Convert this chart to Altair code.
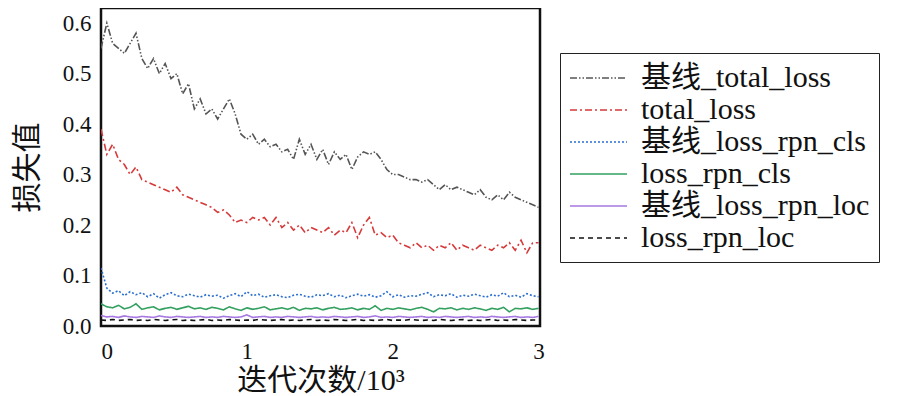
import altair as alt
import pandas as pd
import numpy as np

series_names = ["基线_total_loss", "total_loss", "基线_loss_rpn_cls",
                "loss_rpn_cls", "基线_loss_rpn_loc", "loss_rpn_loc"]
series_colors = ["#555555", "#d63a3a", "#2a6fd0", "#34a060", "#a678e0", "#111111"]
series_dash = [[7, 2, 1.5, 2, 1.5, 2], [7, 3, 2, 3], [2, 2], [1, 0], [1, 0], [5, 4]]
series_width = [1.6, 1.6, 1.8, 2.0, 1.6, 2.2]

base_total_loss = [0.55, 0.60, 0.56, 0.55, 0.54, 0.56, 0.58, 0.53, 0.51, 0.53,
                   0.50, 0.52, 0.49, 0.50, 0.46, 0.48, 0.43, 0.45, 0.42, 0.43,
                   0.41, 0.43, 0.45, 0.42, 0.38, 0.37, 0.38, 0.36, 0.37, 0.355,
                   0.36, 0.345, 0.35, 0.33, 0.37, 0.34, 0.36, 0.33, 0.35, 0.32,
                   0.345, 0.33, 0.34, 0.31, 0.335, 0.345, 0.34, 0.345, 0.33, 0.31,
                   0.30, 0.30, 0.295, 0.29, 0.29, 0.285, 0.29, 0.28, 0.27, 0.28,
                   0.27, 0.275, 0.27, 0.265, 0.26, 0.27, 0.255, 0.25, 0.26, 0.25,
                   0.265, 0.255, 0.25, 0.245, 0.24, 0.235]
total_loss = [0.39, 0.34, 0.36, 0.33, 0.32, 0.30, 0.315, 0.29, 0.285, 0.28,
              0.275, 0.27, 0.265, 0.275, 0.26, 0.255, 0.25, 0.245, 0.24, 0.235,
              0.225, 0.23, 0.22, 0.205, 0.21, 0.205, 0.215, 0.21, 0.215, 0.20,
              0.215, 0.195, 0.205, 0.19, 0.20, 0.185, 0.195, 0.19, 0.185, 0.195,
              0.18, 0.19, 0.185, 0.205, 0.175, 0.20, 0.215, 0.18, 0.185, 0.175,
              0.18, 0.165, 0.16, 0.155, 0.165, 0.155, 0.16, 0.15, 0.16, 0.155,
              0.165, 0.15, 0.16, 0.155, 0.15, 0.16, 0.155, 0.15, 0.16, 0.155,
              0.165, 0.15, 0.17, 0.145, 0.165, 0.165]
base_rpn_cls = [0.115, 0.075, 0.065, 0.07, 0.06, 0.068, 0.062, 0.066, 0.058, 0.064,
                0.055, 0.062, 0.066, 0.06, 0.058, 0.063, 0.06, 0.057, 0.062, 0.059,
                0.061, 0.055, 0.06, 0.064, 0.058, 0.068, 0.06, 0.063, 0.057, 0.06,
                0.062, 0.058, 0.056, 0.061, 0.063, 0.059, 0.057, 0.062, 0.06, 0.064,
                0.058, 0.061, 0.056, 0.06, 0.063, 0.059, 0.062, 0.057, 0.06, 0.068,
                0.058, 0.062, 0.057, 0.06, 0.059, 0.063, 0.066, 0.058, 0.062, 0.06,
                0.064, 0.057, 0.061, 0.059, 0.063, 0.06, 0.057, 0.062, 0.059, 0.066,
                0.058, 0.061, 0.057, 0.064, 0.06, 0.058]
rpn_cls = [0.044, 0.038, 0.036, 0.041, 0.034, 0.037, 0.044, 0.033, 0.036, 0.038,
           0.032, 0.035, 0.037, 0.033, 0.036, 0.039, 0.034, 0.036, 0.033, 0.037,
           0.035, 0.032, 0.038, 0.034, 0.031, 0.036, 0.033, 0.035, 0.038, 0.032,
           0.034, 0.036, 0.033, 0.037, 0.031, 0.035, 0.034, 0.036, 0.032, 0.035,
           0.037, 0.033, 0.034, 0.036, 0.032, 0.035, 0.033, 0.04, 0.031, 0.035,
           0.033, 0.036, 0.034, 0.032, 0.035, 0.037, 0.033, 0.028, 0.035, 0.034,
           0.036, 0.032, 0.035, 0.033, 0.036, 0.034, 0.031, 0.035, 0.033, 0.037,
           0.028, 0.035, 0.034, 0.036, 0.033, 0.035]
base_rpn_loc = [0.021, 0.018, 0.019, 0.017, 0.02, 0.018, 0.017, 0.019, 0.018, 0.017,
                0.02, 0.018, 0.017, 0.019, 0.018, 0.017, 0.018, 0.019, 0.017, 0.018,
                0.017, 0.019, 0.018, 0.017, 0.018, 0.022, 0.017, 0.018, 0.019, 0.017,
                0.018, 0.017, 0.019, 0.018, 0.017, 0.018, 0.019, 0.017, 0.018, 0.017,
                0.019, 0.018, 0.017, 0.018, 0.019, 0.017, 0.018, 0.02, 0.017, 0.018,
                0.017, 0.019, 0.018, 0.017, 0.018, 0.019, 0.017, 0.018, 0.017, 0.019,
                0.018, 0.017, 0.018, 0.019, 0.017, 0.018, 0.017, 0.019, 0.018, 0.017,
                0.018, 0.019, 0.017, 0.018, 0.017, 0.019]
rpn_loc = [0.012, 0.011, 0.013, 0.011, 0.012, 0.013, 0.011, 0.012, 0.011, 0.013,
           0.012, 0.011, 0.012, 0.013, 0.011, 0.012, 0.011, 0.012, 0.013, 0.011,
           0.012, 0.011, 0.013, 0.012, 0.011, 0.012, 0.011, 0.013, 0.012, 0.011,
           0.012, 0.013, 0.011, 0.012, 0.011, 0.012, 0.013, 0.011, 0.012, 0.011,
           0.013, 0.012, 0.011, 0.012, 0.013, 0.011, 0.012, 0.011, 0.012, 0.013,
           0.011, 0.012, 0.011, 0.013, 0.012, 0.011, 0.012, 0.011, 0.013, 0.012,
           0.011, 0.012, 0.013, 0.011, 0.012, 0.011, 0.012, 0.013, 0.011, 0.012,
           0.011, 0.013, 0.012, 0.011, 0.012, 0.012]

x_ticks = [0, 1, 2, 3]
y_ticks = [0.0, 0.1, 0.2, 0.3, 0.4, 0.5, 0.6]

all_series = [base_total_loss, total_loss, base_rpn_cls, rpn_cls, base_rpn_loc, rpn_loc]
rows = []
for name, vals in zip(series_names, all_series):
    xs = np.linspace(0, 3, len(vals))
    for i, (xv, yv) in enumerate(zip(xs, vals)):
        rows.append({"series": name, "x": float(xv), "y": yv, "i": i})
df = pd.DataFrame(rows)

FONT = "Liberation Serif, Noto Sans CJK SC"

chart = alt.Chart(df).mark_line(clip=True).encode(
    x=alt.X("x:Q", scale=alt.Scale(domain=[0, 3.01], nice=False, zero=False),
            axis=alt.Axis(values=x_ticks, format="d", title="迭代次数/10³")),
    y=alt.Y("y:Q", scale=alt.Scale(domain=[0, 0.63], nice=False),
            axis=alt.Axis(values=y_ticks, format=".1f", title="损失值")),
    color=alt.Color("series:N", sort=series_names,
                    scale=alt.Scale(domain=series_names, range=series_colors),
                    legend=alt.Legend(title=None)),
    strokeDash=alt.StrokeDash("series:N", sort=series_names,
                              scale=alt.Scale(domain=series_names, range=series_dash),
                              legend=alt.Legend(title=None)),
    strokeWidth=alt.StrokeWidth("series:N", sort=series_names,
                                scale=alt.Scale(domain=series_names, range=series_width),
                                legend=None),
    order="i:Q",
).properties(
    width=439, height=318,
    padding={"left": 4, "top": 0, "right": 5, "bottom": 5},
).configure(
    font=FONT
).configure_view(
    stroke="#111111", strokeWidth=2.5
).configure_axis(
    grid=False, domain=False, ticks=False,
    labelFont=FONT, labelFontSize=23, labelColor="#111111",
    titleFont=FONT, titleFontSize=30, titleColor="#111111", titleFontWeight="normal",
    labelPadding=10,
).configure_axisY(
    titlePadding=20,
).configure_axisX(
    labelPadding=14, titlePadding=2,
).configure_legend(
    orient="none", legendX=459, legendY=45,
    strokeColor="#222222", padding=9,
    labelFont=FONT, labelFontSize=30, labelColor="#111111", labelLimit=600,
    symbolType="M-1,0L2.8,0", symbolSize=900, symbolStrokeWidth=2,
    labelOffset=40, rowPadding=1,
)

chart.save("out.html", embed_options={"renderer": "svg", "actions": False})
